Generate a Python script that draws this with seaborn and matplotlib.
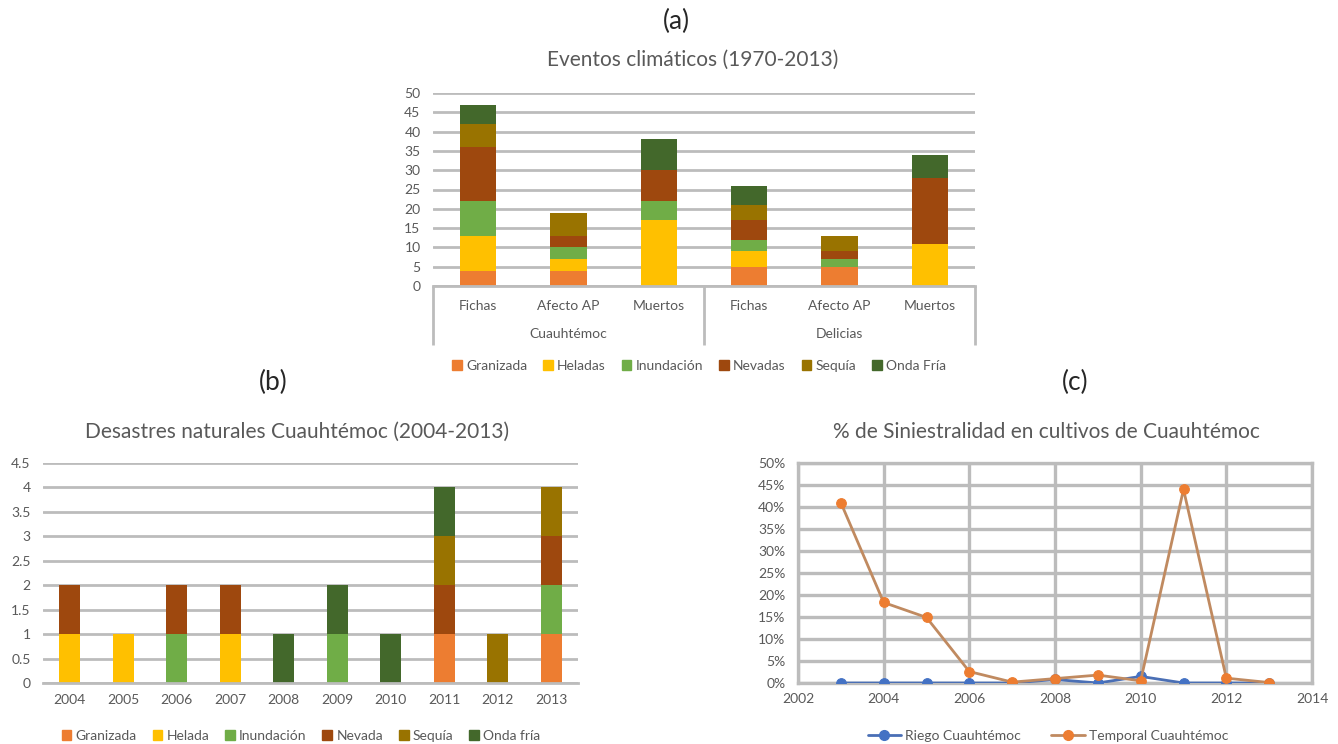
import numpy as np
import pandas as pd
import matplotlib
matplotlib.use("Agg")
import matplotlib.pyplot as plt
from matplotlib.patches import Patch
from matplotlib.lines import Line2D
from matplotlib.ticker import MultipleLocator, PercentFormatter
import seaborn as sns

# ---------------- data ----------------
# (a) climatic events 1970-2013 by municipality and indicator
municipios = ["Cuauhtémoc", "Delicias"]
indicadores = ["Fichas", "Afecto AP", "Muertos"]
eventos_a = ["Granizada", "Heladas", "Inundación", "Nevadas", "Sequía", "Onda Fría"]
granizada_a = [4, 4, 0, 5, 5, 0]
heladas_a = [9, 3, 17, 4, 0, 11]
inundacion_a = [9, 3, 5, 3, 2, 0]
nevadas_a = [14, 3, 8, 5, 2, 17]
sequia_a = [6, 6, 0, 4, 4, 0]
onda_fria_a = [5, 0, 8, 5, 0, 6]

# (b) natural disasters in Cuauhtémoc 2004-2013
anios_b = ["2004", "2005", "2006", "2007", "2008", "2009", "2010", "2011", "2012", "2013"]
eventos_b = ["Granizada", "Helada", "Inundación", "Nevada", "Sequía", "Onda fría"]
granizada_b = [0, 0, 0, 0, 0, 0, 0, 1, 0, 1]
helada_b = [1, 1, 0, 1, 0, 0, 0, 0, 0, 0]
inundacion_b = [0, 0, 1, 0, 0, 1, 0, 0, 0, 1]
nevada_b = [1, 0, 1, 1, 0, 0, 0, 1, 0, 1]
sequia_b = [0, 0, 0, 0, 0, 0, 0, 1, 1, 1]
onda_fria_b = [0, 0, 0, 0, 1, 1, 1, 1, 0, 0]

# (c) crop loss rate (%) in Cuauhtémoc
anios_c = [2003, 2004, 2005, 2006, 2007, 2008, 2009, 2010, 2011, 2012, 2013]
riego = [0, 0, 0, 0, 0, 0.8, 0, 1.5, 0, 0, 0]
temporal = [41, 18.3, 14.9, 2.6, 0.2, 1.0, 1.8, 0.5, 44, 1.1, 0.1]
series_c = ["Riego Cuauhtémoc", "Temporal Cuauhtémoc"]

# ---------------- style ----------------
sns.set_theme(style="white")
plt.rcParams["font.family"] = ["Lato", "DejaVu Sans"]

COLORS = ["#ED7D31", "#FFC000", "#70AD47", "#9E480E", "#997300", "#43682B"]
GRID = "#bcbcbc"
TXT = "#595959"
W, H = 1338, 744

fig = plt.figure(figsize=(W / 100, H / 100), dpi=100)


def rect(l, t, r, b):
    return [l / W, 1 - b / H, (r - l) / W, (b - t) / H]


def ftext(x, y, s, **kw):
    fig.text(x / W, 1 - y / H, s, ha="center", va="center", **kw)


def stacked(ax, labels, series, width):
    # cumulative totals drawn tallest first so each layer shows as a stacked segment
    cum = np.cumsum(np.array(series, dtype=float), axis=0)
    for i in range(len(series) - 1, -1, -1):
        sns.barplot(x=labels, y=cum[i], order=labels, color=COLORS[i],
                    width=width, saturation=1, errorbar=None, linewidth=0, ax=ax)


def style_bar_axes(ax):
    ax.set_axisbelow(True)
    ax.yaxis.grid(True, color=GRID, linewidth=2.0)
    for s in ["top", "right", "left"]:
        ax.spines[s].set_visible(False)
    ax.spines["bottom"].set_color(GRID)
    ax.spines["bottom"].set_linewidth(2.0)
    ax.tick_params(axis="both", length=0, labelsize=10, labelcolor=TXT)
    ax.tick_params(axis="y", pad=9)
    ax.set_xlabel("")
    ax.set_ylabel("")


# ---------------- (a) ----------------
ax_a = fig.add_axes(rect(433, 93, 975, 286))
keys_a = [f"{m} {i}" for m in municipios for i in indicadores]
stacked(ax_a, keys_a,
        [granizada_a, heladas_a, inundacion_a, nevadas_a, sequia_a, onda_fria_a], 0.4)
style_bar_axes(ax_a)
ax_a.set_ylim(0, 50)
ax_a.set_xlim(-0.5, len(keys_a) - 0.5)
ax_a.yaxis.set_major_locator(MultipleLocator(5))
ax_a.set_xticks(range(len(keys_a)))
ax_a.set_xticklabels(indicadores * len(municipios))
ax_a.tick_params(axis="x", pad=10)
trans = ax_a.get_xaxis_transform()
depth = -(345 - 286) / (286 - 93)
for xb in [-0.5, 2.5, 5.5]:
    ax_a.plot([xb, xb], [0, depth], transform=trans, color=GRID,
              linewidth=2.0, clip_on=False, solid_capstyle="butt")
for k, m in enumerate(municipios):
    ax_a.text(1 + 3 * k, -(334 - 286) / (286 - 93), m, transform=trans,
              ha="center", va="center", fontsize=10, color=TXT)

ftext(676, 21, "(a)", fontsize=19, color="#262626")
ftext(693, 60, "Eventos climáticos (1970-2013)", fontsize=15, color=TXT)
fig.legend([Patch(color=c) for c in COLORS], eventos_a, loc="center",
           bbox_to_anchor=(699 / W, 1 - 366 / H), ncol=6, frameon=False,
           handlelength=0.7, handleheight=0.7, handletextpad=0.3,
           columnspacing=1.15, fontsize=10, labelcolor=TXT)

# ---------------- (b) ----------------
ax_b = fig.add_axes(rect(43, 463, 578, 683))
stacked(ax_b, anios_b,
        [granizada_b, helada_b, inundacion_b, nevada_b, sequia_b, onda_fria_b], 0.4)
style_bar_axes(ax_b)
ax_b.set_ylim(0, 4.5)
ax_b.set_xlim(-0.5, len(anios_b) - 0.5)
ax_b.yaxis.set_major_locator(MultipleLocator(0.5))
ax_b.yaxis.set_major_formatter(lambda v, p: f"{v:g}")
ax_b.tick_params(axis="x", pad=8)

ftext(273, 382, "(b)", fontsize=19, color="#262626")
ftext(297, 432, "Desastres naturales Cuauhtémoc (2004-2013)", fontsize=15, color=TXT)
fig.legend([Patch(color=c) for c in COLORS], eventos_b, loc="center",
           bbox_to_anchor=(301 / W, 1 - 736 / H), ncol=6, frameon=False,
           handlelength=0.7, handleheight=0.7, handletextpad=0.3,
           columnspacing=1.15, fontsize=10, labelcolor=TXT)

# ---------------- (c) ----------------
ax_c = fig.add_axes(rect(798, 463, 1312, 683))
df_c = pd.DataFrame({"anio": anios_c, series_c[0]: riego, series_c[1]: temporal})
line_styles = {
    series_c[0]: dict(color="#4a6fb5", mfc="#4472C4"),
    series_c[1]: dict(color="#c08a60", mfc="#ED7D31"),
}
for name in series_c:
    st = line_styles[name]
    sns.lineplot(data=df_c, x="anio", y=name, ax=ax_c, color=st["color"],
                 linewidth=2.0, marker="o", markersize=7,
                 markerfacecolor=st["mfc"], markeredgecolor=st["mfc"], zorder=3)
ax_c.set_xlim(2002, 2014)
ax_c.set_ylim(0, 50)
ax_c.xaxis.set_major_locator(MultipleLocator(2))
ax_c.yaxis.set_major_locator(MultipleLocator(5))
ax_c.yaxis.set_major_formatter(PercentFormatter(100, decimals=0))
ax_c.grid(True, color=GRID, linewidth=2.4)
ax_c.set_axisbelow(True)
for s in ax_c.spines.values():
    s.set_color(GRID)
    s.set_linewidth(2.4)
ax_c.tick_params(axis="both", length=0, labelsize=10, labelcolor=TXT)
ax_c.tick_params(axis="y", pad=9)
ax_c.tick_params(axis="x", pad=7)
ax_c.set_xlabel("")
ax_c.set_ylabel("")

ftext(1075, 382, "(c)", fontsize=19, color="#262626")
ftext(1046, 432, "% de Siniestralidad en cultivos de Cuauhtémoc", fontsize=15, color=TXT)
handles_c = [Line2D([0], [0], color=line_styles[n]["color"], linewidth=2.0,
                    marker="o", markersize=7, markerfacecolor=line_styles[n]["mfc"],
                    markeredgecolor=line_styles[n]["mfc"]) for n in series_c]
fig.legend(handles_c, series_c, loc="center", bbox_to_anchor=(1048 / W, 1 - 736 / H),
           ncol=2, frameon=False, handlelength=2.4, handletextpad=0.3,
           columnspacing=2.2, fontsize=10, labelcolor=TXT)

fig.savefig("out.png", dpi=100, facecolor="white")
